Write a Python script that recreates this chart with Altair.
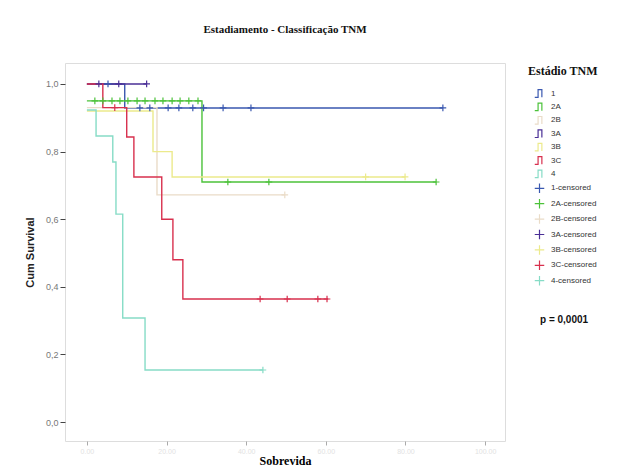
import altair as alt
import pandas as pd

# ---------------- data ----------------
groups = ["1", "2A", "2B", "3A", "3B", "3C", "4"]
colors = ["#3a58b0", "#4cc23a", "#eadcc8", "#4a2f96", "#ecea8c", "#d8304e", "#86dcc6"]

# step times (months) and cumulative survival after each step
g1_t = [0, 9.5];                                  g1_s = [1.0, 0.929]
g2A_t = [0, 28.9];                                g2A_s = [0.95, 0.71]
g2B_t = [0, 17.6];                                g2B_s = [0.93, 0.672]
g3A_t = [0];                                      g3A_s = [1.0]
g3B_t = [0, 16.6, 21.4];                          g3B_s = [0.92, 0.80, 0.725]
g3C_t = [0, 4.0, 10.0, 11.8, 18.8, 21.6, 24.1];   g3C_s = [1.0, 0.93, 0.843, 0.725, 0.60, 0.48, 0.364]
g4_t = [0, 2.3, 6.5, 7.3, 9.0, 14.6];             g4_s = [0.923, 0.846, 0.769, 0.615, 0.308, 0.154]

# last follow-up time of each group
ends = [89.4, 87.7, 49.7, 15.0, 79.9, 60.6, 44.2]

# censored times
g1_c = [5.3, 13.3, 15.8, 20.4, 23.1, 26.6, 29.3, 34.2, 41.2, 89.4]
g2A_c = [2.0, 4.0, 6.3, 8.3, 10.3, 12.6, 14.6, 17.1, 19.1, 21.4, 23.4, 25.6, 27.9, 35.4, 45.7, 87.7]
g2B_c = [49.7]
g3A_c = [3.0, 8.0, 15.0]
g3B_c = [70.0, 79.9]
g3C_c = [7.0, 43.5, 50.3, 58.0, 60.3]
g4_c = [44.2]

x_ticks = [0, 20, 40, 60, 80, 100]
y_ticks = [0.0, 0.2, 0.4, 0.6, 0.8, 1.0]
p_text = "p = 0,0001"

# ---------------- build tables ----------------
steps = [(g1_t, g1_s), (g2A_t, g2A_s), (g2B_t, g2B_s), (g3A_t, g3A_s),
         (g3B_t, g3B_s), (g3C_t, g3C_s), (g4_t, g4_s)]
cens = [g1_c, g2A_c, g2B_c, g3A_c, g3B_c, g3C_c, g4_c]

line_rows, cens_rows = [], []
for gi, g in enumerate(groups):
    ts, ss = steps[gi]
    for t, s in zip(ts, ss):
        line_rows.append({"grp": g, "t": t, "s": s, "o": len(line_rows)})
    line_rows.append({"grp": g, "t": ends[gi], "s": ss[-1], "o": len(line_rows)})
    for c in cens[gi]:
        lvl = ss[0]
        for t, s in zip(ts, ss):
            if t <= c:
                lvl = s
        cens_rows.append({"key": g + "-censored", "t": c, "s": lvl})

lines_df = pd.DataFrame(line_rows)
cens_df = pd.DataFrame(cens_rows)

domain = groups + [g + "-censored" for g in groups]
step_glyph = "M-1,0.8L-0.3,0.8L-0.3,-0.8L0.5,-0.8L0.5,0.8"
plus_glyph = "M-1,0L1,0M0,-1L0,1"

color_scale = alt.Scale(domain=domain, range=colors + colors)
shape_scale = alt.Scale(domain=domain, range=[step_glyph] * 7 + [plus_glyph] * 7)

xs = alt.X("t:Q", scale=alt.Scale(domain=[-5.5, 105], nice=False, zero=False),
           axis=alt.Axis(values=x_ticks, title="Sobrevida", grid=False,
                         labelColor="#e2e2e2", labelFontSize=7, format=",.2f",
                         tickColor="#aaaaaa", tickSize=4,
                         titleFont="Liberation Serif", titleFontSize=12,
                         titleFontWeight="bold", titlePadding=1, domain=False))
ys = alt.Y("s:Q", scale=alt.Scale(domain=[-0.056, 1.062], nice=False, zero=False),
           axis=alt.Axis(values=y_ticks, title="Cum Survival", grid=False,
                         labelExpr="replace(format(datum.value, '.1f'), '.', ',')",
                         labelColor="#777777", labelFontSize=9, labelFont="Liberation Sans",
                         tickColor="#444444", tickSize=5, domain=False,
                         titleFont="Liberation Sans", titleFontSize=11,
                         titleFontWeight="bold", titlePadding=10, titleColor="#222222"))

lines = alt.Chart(lines_df).mark_line(interpolate="step-after", strokeWidth=1.4).encode(
    x=xs, y=ys,
    stroke=alt.Stroke("grp:N", scale=alt.Scale(domain=groups, range=colors), legend=None),
    order="o:Q",
)

leg = dict(title="Estádio TNM", orient="none", legendX=463, legendY=3,
           titleFont="Liberation Serif", titleFontSize=12, titleFontWeight="bold",
           titleColor="#111111", titlePadding=10,
           labelFont="Liberation Sans", labelFontSize=8, labelColor="#333333",
           symbolSize=90, symbolStrokeWidth=1.2, rowPadding=0.4, labelOffset=6,
           symbolOffset=6)

points = alt.Chart(cens_df).mark_point(filled=False, size=45, strokeWidth=1.2, opacity=1).encode(
    x=xs, y=ys,
    color=alt.Color("key:N", scale=color_scale, legend=alt.Legend(**leg)),
    shape=alt.Shape("key:N", scale=shape_scale, legend=alt.Legend(**leg)),
)

ptext = alt.Chart(pd.DataFrame({"txt": [p_text]})).mark_text(
    align="left", baseline="middle", font="Liberation Sans", fontSize=10,
    fontWeight="bold", color="#111111").encode(
    text="txt:N", x=alt.value(475), y=alt.value(257))

chart = alt.layer(lines, points, ptext).properties(
    width=440, height=378,
    title=alt.TitleParams("Estadiamento - Classificação TNM", font="Liberation Serif",
                          fontSize=11, fontWeight="bold", color="#111111",
                          anchor="middle", offset=28),
    autosize=alt.AutoSizeParams(type="none"),
    padding={"left": 65, "top": 63, "right": 131, "bottom": 31},
).configure_view(
    fill="#f3f6f8", stroke="#555555", strokeWidth=2
).configure(background="white")

chart.save("out.html", embed_options={"renderer": "svg", "actions": False})
